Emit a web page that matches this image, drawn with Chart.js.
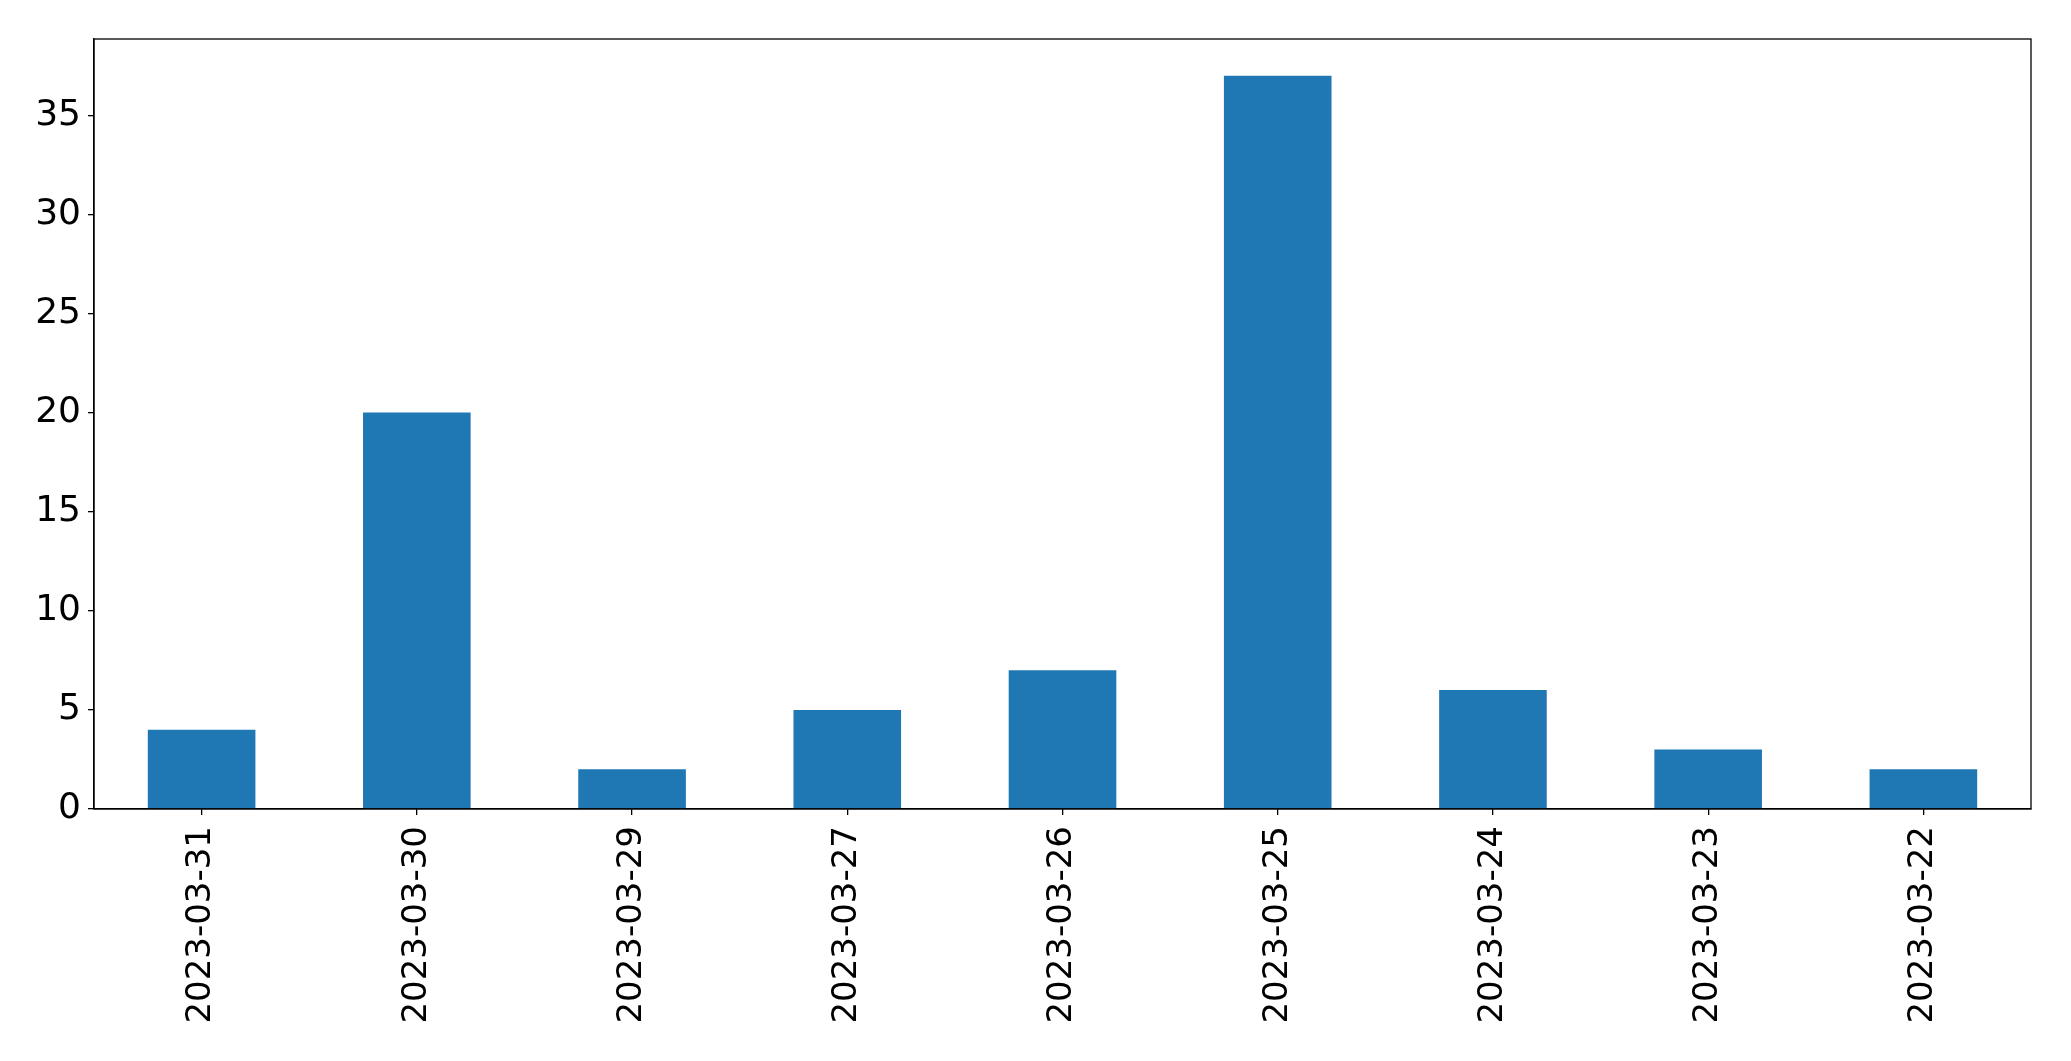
<!DOCTYPE html>
<html>
<head>
<meta charset="utf-8">
<script src="https://cdn.jsdelivr.net/npm/chart.js@4"></script>
<style>
    body { margin: 0; background: #fff; }
    canvas { display: block; }
</style>
</head>
<body>
<canvas id="chart" width="2071" height="1061"></canvas>
<script>
var dates = ['2023-03-31', '2023-03-30', '2023-03-29', '2023-03-27', '2023-03-26',
    '2023-03-25', '2023-03-24', '2023-03-23', '2023-03-22'];
var counts = [4, 20, 2, 5, 7, 37, 6, 3, 2];
var yTicks = [0, 5, 10, 15, 20, 25, 30, 35];

// box around the plot, like a matplotlib axes frame
var frame = {
    id: 'frame',
    afterDraw: function (chart) {
        var a = chart.chartArea;
        var ctx = chart.ctx;
        ctx.save();
        ctx.strokeStyle = '#000';
        ctx.lineWidth = 1.3;
        ctx.strokeRect(a.left, a.top, a.right - a.left, a.bottom - a.top);
        ctx.restore();
    }
};

Chart.defaults.font.family = 'DejaVu Sans';
Chart.defaults.color = '#000';

new Chart(document.getElementById('chart'), {
    type: 'bar',
    data: {
        labels: dates,
        datasets: [{
            data: counts,
            backgroundColor: '#1f77b4',
            categoryPercentage: 1,
            barPercentage: 0.5
        }]
    },
    options: {
        responsive: false,
        animation: false,
        layout: { padding: { top: 39, right: 40, left: 0, bottom: 0 } },
        plugins: { legend: { display: false }, tooltip: { enabled: false } },
        scales: {
            x: {
                offset: true,
                grid: { offset: false, drawOnChartArea: false, tickLength: 6, color: '#000', lineWidth: 1.3 },
                border: { color: '#000', width: 1.3 },
                ticks: { minRotation: 90, maxRotation: 90, font: { size: 34 }, padding: 11 },
                afterFit: function (axis) { axis.height = 252; }
            },
            y: {
                min: 0,
                max: 38.85,
                grid: { drawOnChartArea: false, tickLength: 6, color: '#000', lineWidth: 1.3 },
                border: { color: '#000', width: 1.3 },
                ticks: { font: { size: 36 }, padding: 7 },
                afterBuildTicks: function (axis) {
                    axis.ticks = yTicks.map(function (v) { return { value: v }; });
                },
                afterFit: function (axis) { axis.width = 94; }
            }
        }
    },
    plugins: [frame]
});
</script>
</body>
</html>
